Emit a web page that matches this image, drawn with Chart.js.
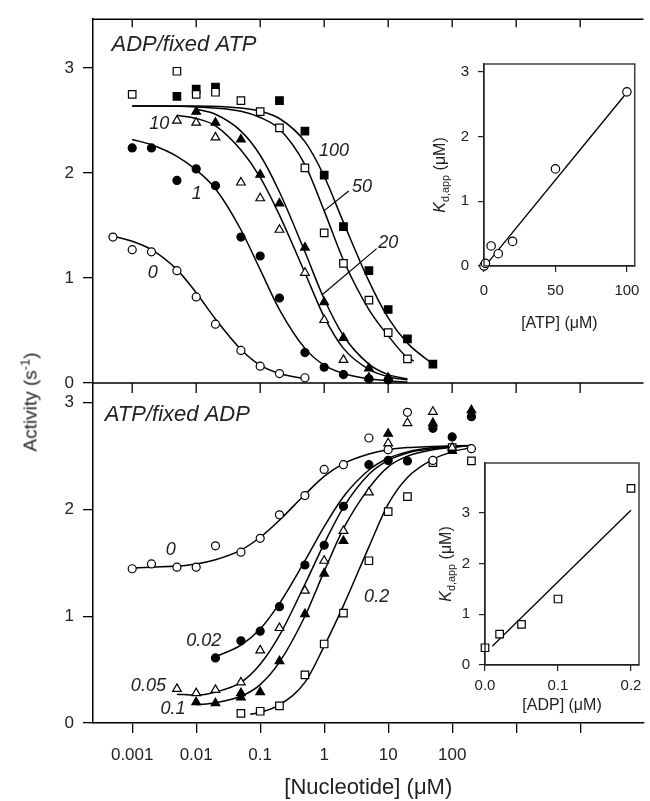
<!DOCTYPE html>
<html>
<head>
<meta charset="utf-8">
<script src="https://cdn.jsdelivr.net/npm/chart.js@4.4.0/dist/chart.umd.min.js"></script>
<style>
  body { margin: 0; background: #fff; }
  #wrap { position: relative; width: 650px; height: 801px; overflow: hidden;
          font-family: "Liberation Sans", Arial, sans-serif; color: #222; }
  canvas { position: absolute; }
  .rot { position: absolute; white-space: nowrap; transform: translate(-50%, -50%) rotate(-90deg); line-height: 1; }
  .rot sup, .rot sub { font-size: 0.68em; line-height: 0; }
</style>
</head>
<body>
<div id="wrap">
  <canvas id="cTop" width="650" height="801" style="left:0;top:0"></canvas>
  <canvas id="cBot" width="650" height="801" style="left:0;top:0"></canvas>
  <canvas id="cIn1" width="250" height="300" style="left:400px;top:40px"></canvas>
  <canvas id="cIn2" width="250" height="280" style="left:400px;top:440px"></canvas>
  <div class="rot" style="left:30px;top:402px;font-size:19px">Activity (s<sup>-1</sup>)</div>
  <div class="rot" style="left:440px;top:175px;font-size:16px"><i>K</i><sub>d,app</sub> (μM)</div>
  <div class="rot" style="left:446px;top:564px;font-size:16px"><i>K</i><sub>d,app</sub> (μM)</div>
</div>
<script>
// ---- top panel: ADP titration at fixed ATP (uM) ----
const atp0X = [0.0005, 0.001, 0.002, 0.005, 0.01, 0.02, 0.05, 0.1, 0.2, 0.5];
const atp0Y = [1.39, 1.27, 1.25, 1.07, 0.82, 0.56, 0.31, 0.16, 0.09, 0.05];
const atp1X = [0.001, 0.002, 0.005, 0.01, 0.02, 0.05, 0.1, 0.2, 0.5, 1, 2, 5, 10];
const atp1Y = [2.24, 2.24, 1.93, 2.04, 1.88, 1.39, 1.21, 0.81, 0.29, 0.15, 0.08, 0.04, 0.03];
const atp10X = [0.005, 0.01, 0.02, 0.05, 0.1, 0.2, 0.5, 1, 2, 5];
const atp10Y = [2.50, 2.48, 2.34, 1.91, 1.76, 1.46, 1.05, 0.60, 0.22, 0.05];
const atp20X = [0.01, 0.02, 0.05, 0.1, 0.2, 0.5, 1, 2, 5, 10];
const atp20Y = [2.585, 2.48, 2.32, 1.985, 1.71, 1.29, 0.77, 0.43, 0.14, 0.05];
const atp50X = [0.001, 0.005, 0.01, 0.02, 0.05, 0.1, 0.2, 0.5, 1, 2, 5, 10, 20];
const atp50Y = [2.75, 2.97, 2.75, 2.77, 2.69, 2.585, 2.43, 2.05, 1.43, 1.14, 0.79, 0.48, 0.23];
const atp100X = [0.005, 0.01, 0.02, 0.2, 0.5, 1, 2, 5, 10, 20, 50];
const atp100Y = [2.73, 2.80, 2.82, 2.69, 2.40, 1.98, 1.49, 1.07, 0.70, 0.42, 0.18];

// fitted curves, [x, y]
const fitAtp0 = [[0.0005,1.40],[0.001,1.35],[0.002,1.27],[0.005,1.08],[0.01,0.86],[0.02,0.61],[0.05,0.32],[0.1,0.17],[0.2,0.09],[0.5,0.04]];
const fitAtp1 = [[0.001,2.32],[0.002,2.27],[0.005,2.16],[0.01,2.03],[0.02,1.85],[0.05,1.46],[0.1,1.08],[0.2,0.70],[0.5,0.33],[1,0.17],[2,0.09],[5,0.04],[10,0.02],[20,0.01]];
const fitAtp10 = [[0.005,2.55],[0.01,2.52],[0.02,2.45],[0.05,2.22],[0.1,1.96],[0.2,1.60],[0.5,1.05],[1,0.63],[2,0.33],[5,0.13],[10,0.06],[20,0.03]];
const fitAtp20 = [[0.01,2.61],[0.02,2.56],[0.05,2.40],[0.1,2.17],[0.2,1.82],[0.5,1.25],[1,0.80],[2,0.45],[5,0.18],[10,0.08],[20,0.04]];
const fitAtp50 = [[0.001,2.64],[0.01,2.63],[0.05,2.59],[0.1,2.53],[0.2,2.42],[0.5,2.08],[1,1.64],[2,1.17],[5,0.70],[10,0.45],[20,0.24],[25,0.21]];
const fitAtp100 = [[0.001,2.64],[0.01,2.64],[0.05,2.62],[0.1,2.59],[0.2,2.52],[0.5,2.30],[1,1.97],[2,1.53],[5,0.97],[10,0.62],[20,0.38],[50,0.18]];

// ---- bottom panel: ATP titration at fixed ADP (uM) ----
const adp0X = [0.001, 0.002, 0.005, 0.01, 0.02, 0.05, 0.1, 0.2, 0.5, 1, 2, 5, 10, 20, 50, 200];
const adp0Y = [1.445, 1.49, 1.46, 1.46, 1.66, 1.60, 1.73, 1.95, 2.13, 2.375, 2.42, 2.67, 2.56, 2.91, 2.46, 2.57];
const adp002X = [0.02, 0.05, 0.1, 0.2, 0.5, 1, 2, 5, 10, 20, 50, 100, 200];
const adp002Y = [0.61, 0.77, 0.86, 1.09, 1.48, 1.665, 2.03, 2.42, 2.46, 2.455, 2.76, 2.68, 2.87];
const adp005X = [0.005, 0.01, 0.02, 0.05, 0.1, 0.2, 0.5, 1, 2, 5, 10, 20, 50, 100];
const adp005Y = [0.32, 0.28, 0.31, 0.38, 0.68, 0.89, 1.24, 1.52, 1.80, 2.16, 2.62, 2.81, 2.915, 2.58];
const adp01X = [0.01, 0.02, 0.05, 0.05, 0.1, 0.2, 0.5, 1, 2, 10, 50, 100, 200];
const adp01Y = [0.195, 0.185, 0.24, 0.28, 0.29, 0.58, 1.02, 1.40, 1.705, 2.71, 2.81, 2.55, 2.93];
const adp02X = [0.05, 0.1, 0.2, 0.5, 1, 2, 5, 10, 20, 50, 100, 200];
const adp02Y = [0.09, 0.11, 0.16, 0.45, 0.74, 1.03, 1.52, 1.98, 2.12, 2.44, 2.58, 2.455];

const fitAdp0 = [[0.001,1.45],[0.002,1.46],[0.005,1.47],[0.01,1.49],[0.02,1.53],[0.05,1.62],[0.1,1.74],[0.2,1.90],[0.5,2.14],[1,2.31],[2,2.43],[5,2.52],[10,2.56],[20,2.58],[50,2.59],[200,2.60]];
const fitAdp002 = [[0.02,0.62],[0.05,0.73],[0.1,0.88],[0.2,1.12],[0.5,1.52],[1,1.84],[2,2.12],[5,2.37],[10,2.48],[20,2.54],[50,2.58],[200,2.60]];
const fitAdp005 = [[0.005,0.27],[0.01,0.26],[0.02,0.29],[0.05,0.38],[0.1,0.55],[0.2,0.82],[0.5,1.30],[1,1.68],[2,2.02],[5,2.33],[10,2.46],[20,2.53],[50,2.57],[200,2.60]];
const fitAdp01 = [[0.01,0.17],[0.02,0.19],[0.05,0.25],[0.1,0.36],[0.2,0.57],[0.5,1.00],[1,1.42],[2,1.82],[5,2.20],[10,2.40],[20,2.50],[50,2.56],[200,2.60]];
const fitAdp02 = [[0.07,0.08],[0.1,0.10],[0.2,0.17],[0.5,0.38],[1,0.72],[2,1.10],[5,1.65],[10,2.05],[20,2.30],[50,2.47],[100,2.54],[200,2.58]];

// ---- insets ----
const atpInsetX = [0, 1, 5, 10, 20, 50, 100];
const atpInsetKd = [0.0, 0.04, 0.31, 0.19, 0.38, 1.50, 2.69];
const atpInsetFit = [[0, -0.02], [100, 2.68]];
const adpInsetX = [0, 0.02, 0.05, 0.1, 0.2];
const adpInsetKd = [0.34, 0.61, 0.80, 1.30, 3.48];
const adpInsetFit = [[0.01, 0.37], [0.2, 3.05]];

// axis ticks
const xDecades = [0.001, 0.01, 0.1, 1, 10, 100, 1000, 10000];
const xTickLabels = ['0.001', '0.01', '0.1', '1', '10', '100', '', ''];
const yTicks = [0, 1, 2, 3];

// curve labels (data coords)
const topNotes = [
  { x: 0.0021, y: 1.05, t: '0' }, { x: 0.0102, y: 1.80, t: '1' }, { x: 0.00264, y: 2.47, t: '10' },
  { x: 1.42, y: 2.21, t: '100' }, { x: 3.9, y: 1.87, t: '50' }, { x: 10, y: 1.33, t: '20' }
];
const topLeaders = [[[0.99, 1.64], [2.42, 1.83]], [[0.93, 0.84], [6.6, 1.28]]];
const botNotes = [
  { x: 0.004, y: 1.62, t: '0' }, { x: 0.0131, y: 0.77, t: '0.02' }, { x: 0.00179, y: 0.35, t: '0.05' },
  { x: 0.00434, y: 0.13, t: '0.1' }, { x: 6.6, y: 1.18, t: '0.2' }
];

const FONT = '"Liberation Sans", Arial, sans-serif';
Chart.defaults.font.family = FONT;
Chart.defaults.color = '#222';
Chart.defaults.animation = false;

const pts = (xs, ys) => xs.map((x, i) => ({ x: x, y: ys[i] }));

function marks(xs, ys, style, filled, r) {
  return {
    data: pts(xs, ys), pointStyle: style, pointRadius: r, pointHoverRadius: r,
    pointBackgroundColor: filled ? '#000' : '#fff', pointBorderColor: '#000',
    pointBorderWidth: 1.2, showLine: false, clip: false, order: 0
  };
}
function curve(xy, w) {
  return {
    data: xy.map(p => ({ x: p[0], y: p[1] })), showLine: true, borderColor: '#000',
    borderWidth: w || 1.5, pointRadius: 0, cubicInterpolationMode: 'monotone',
    fill: false, clip: false, order: 1
  };
}

function frameTicks(len) {
  return {
    id: 'frameTicks',
    afterDraw(chart) {
      const { ctx, chartArea: a } = chart;
      const x = chart.scales.x;
      ctx.save();
      ctx.strokeStyle = '#000';
      ctx.lineWidth = 1.5;
      ctx.beginPath(); ctx.moveTo(a.left, a.top); ctx.lineTo(a.right, a.top); ctx.stroke();
      ctx.lineWidth = 1.3;
      xDecades.forEach(v => {
        const px = x.getPixelForValue(v);
        ctx.beginPath(); ctx.moveTo(px, a.top); ctx.lineTo(px, a.top + len); ctx.stroke();
      });
      ctx.restore();
    }
  };
}

function notes(list, leaders, title) {
  return {
    id: 'notes',
    afterDatasetsDraw(chart) {
      const { ctx } = chart;
      const x = chart.scales.x, y = chart.scales.y;
      ctx.save();
      ctx.fillStyle = '#222';
      ctx.textAlign = 'center';
      ctx.textBaseline = 'middle';
      ctx.font = 'italic 18px ' + FONT;
      list.forEach(n => ctx.fillText(n.t, x.getPixelForValue(n.x), y.getPixelForValue(n.y)));
      ctx.strokeStyle = '#000';
      ctx.lineWidth = 1.2;
      leaders.forEach(([p, q]) => {
        ctx.beginPath();
        ctx.moveTo(x.getPixelForValue(p[0]), y.getPixelForValue(p[1]));
        ctx.lineTo(x.getPixelForValue(q[0]), y.getPixelForValue(q[1]));
        ctx.stroke();
      });
      ctx.font = 'italic 22px ' + FONT;
      ctx.textAlign = 'left';
      ctx.fillText(title.t, x.getPixelForValue(title.x), y.getPixelForValue(title.y));
      ctx.restore();
    }
  };
}

const boxFrame = {
  id: 'boxFrame',
  afterDraw(chart) {
    const { ctx, chartArea: a } = chart;
    ctx.save();
    ctx.strokeStyle = '#222';
    ctx.lineWidth = 1.3;
    ctx.strokeRect(a.left, a.top, a.right - a.left, a.bottom - a.top);
    ctx.restore();
  }
};

function yAxis(max, width) {
  return {
    type: 'linear', min: 0, max: max,
    afterFit: s => { s.width = width; },
    afterBuildTicks: s => { s.ticks = yTicks.map(v => ({ value: v })); },
    grid: { drawOnChartArea: false, tickLength: 10, color: '#000', lineWidth: 1.3 },
    border: { display: true, color: '#000', width: 1.5 },
    ticks: { font: { size: 17 }, padding: 9 }
  };
}

function xAxis(show) {
  return {
    type: 'logarithmic', min: 0.000244, max: 97700, display: show,
    afterFit: s => { s.height = show ? 78 : 0; },
    afterBuildTicks: s => { s.ticks = xDecades.map(v => ({ value: v })); },
    grid: { drawOnChartArea: false, tickLength: 10, color: '#000', lineWidth: 1.3 },
    border: { display: true, color: '#000', width: 1.5 },
    ticks: { font: { size: 17 }, padding: 12, maxRotation: 0, autoSkip: false,
             callback: (v, i) => xTickLabels[i] },
    title: { display: true, text: '[Nucleotide] (μM)', font: { size: 22 }, padding: { top: 0, bottom: 0 } }
  };
}

const baseOpts = {
  responsive: false,
  plugins: { legend: { display: false }, tooltip: { enabled: false } }
};

new Chart(document.getElementById('cTop'), {
  type: 'scatter',
  data: {
    datasets: [
      marks(atp0X, atp0Y, 'circle', false, 4),
      marks(atp1X, atp1Y, 'circle', true, 4),
      marks(atp10X, atp10Y, 'triangle', false, 5),
      marks(atp20X, atp20Y, 'triangle', true, 5),
      marks(atp50X, atp50Y, 'rect', false, 5.3),
      marks(atp100X, atp100Y, 'rect', true, 5.3),
      curve(fitAtp0), curve(fitAtp1), curve(fitAtp10),
      curve(fitAtp20), curve(fitAtp50), curve(fitAtp100)
    ]
  },
  options: Object.assign({}, baseOpts, {
    layout: { padding: { top: 17, bottom: 418, left: 0, right: 0 } },
    scales: { x: xAxis(false), y: yAxis(3.466, 93) }
  }),
  plugins: [frameTicks(8), notes(topNotes, topLeaders, { t: 'ADP/fixed ATP', x: 0.000474, y: 3.22 })]
});

new Chart(document.getElementById('cBot'), {
  type: 'scatter',
  data: {
    datasets: [
      marks(adp0X, adp0Y, 'circle', false, 4),
      marks(adp002X, adp002Y, 'circle', true, 4),
      marks(adp005X, adp005Y, 'triangle', false, 5),
      marks(adp01X, adp01Y, 'triangle', true, 5),
      marks(adp02X, adp02Y, 'rect', false, 5.3),
      curve(fitAdp0), curve(fitAdp002), curve(fitAdp005),
      curve(fitAdp01), curve(fitAdp02)
    ]
  },
  options: Object.assign({}, baseOpts, {
    layout: { padding: { top: 383, bottom: 0, left: 0, right: 0 } },
    scales: { x: xAxis(true), y: yAxis(3.185, 93) }
  }),
  plugins: [frameTicks(10), notes(botNotes, [], { t: 'ATP/fixed ADP', x: 0.000373, y: 2.885 })]
});

function insetScales(xMax, xTicks, xDec, yMax, xTitle, xWidthH, titlePad, tickPad) {
  return {
    x: {
      type: 'linear', min: 0, max: xMax,
      afterFit: s => { s.height = xWidthH; },
      afterBuildTicks: s => { s.ticks = xTicks.map(v => ({ value: v })); },
      grid: { drawOnChartArea: false, tickLength: 6, color: '#222', lineWidth: 1.2 },
      border: { display: true, color: '#222', width: 1.3 },
      ticks: { font: { size: 15 }, padding: tickPad, maxRotation: 0, autoSkip: false,
               callback: v => v.toFixed(xDec) },
      title: { display: true, text: xTitle, font: { size: 16 }, padding: { top: 0, bottom: titlePad } }
    },
    y: {
      type: 'linear', min: 0, max: yMax,
      afterFit: s => { s.width = 84; },
      afterBuildTicks: s => { s.ticks = yTicks.map(v => ({ value: v })); },
      grid: { drawOnChartArea: false, tickLength: 6, color: '#222', lineWidth: 1.2 },
      border: { display: true, color: '#222', width: 1.3 },
      ticks: { font: { size: 15 }, padding: 9 }
    }
  };
}

new Chart(document.getElementById('cIn1'), {
  type: 'scatter',
  data: {
    datasets: [
      marks(atpInsetX, atpInsetKd, 'circle', false, 4.2),
      curve(atpInsetFit, 1.3)
    ]
  },
  options: Object.assign({}, baseOpts, {
    layout: { padding: { top: 24, bottom: 0, left: 0, right: 11 } },
    scales: insetScales(105.5, [0, 50, 100], 0, 3.12, '[ATP] (μM)', 74, 7, 10)
  }),
  plugins: [boxFrame]
});

new Chart(document.getElementById('cIn2'), {
  type: 'scatter',
  data: {
    datasets: [
      marks(adpInsetX, adpInsetKd, 'rect', false, 5.3),
      curve(adpInsetFit, 1.3)
    ]
  },
  options: Object.assign({}, baseOpts, {
    layout: { padding: { top: 23, bottom: 0, left: 1, right: 11 } },
    scales: insetScales(0.211, [0, 0.1, 0.2], 1, 3.98, '[ADP] (μM)', 55, 5, 6)
  }),
  plugins: [boxFrame]
});
</script>
</body>
</html>
